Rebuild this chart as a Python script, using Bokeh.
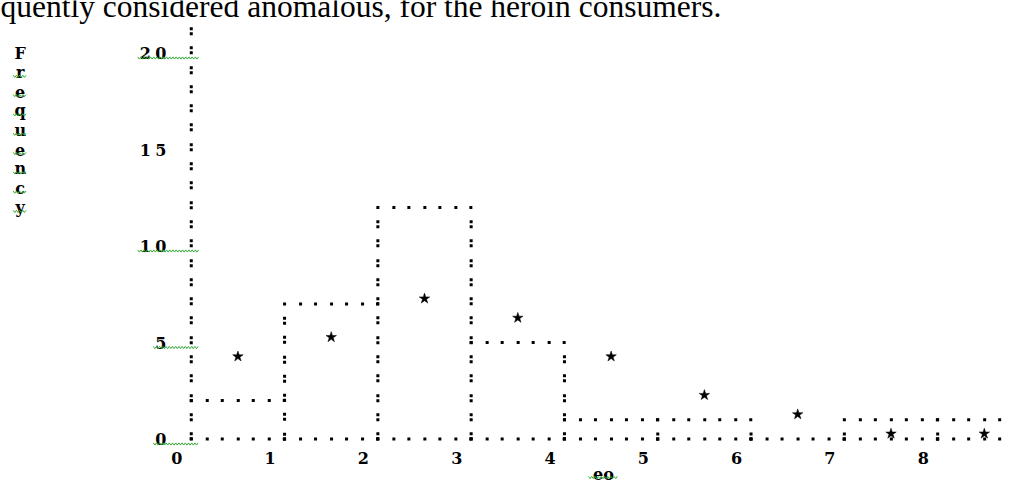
import numpy as np
from bokeh.plotting import figure
from bokeh.models import Range1d
from bokeh.core.properties import value
from bokeh.embed import file_html
from bokeh.resources import INLINE

# ---------------- data ----------------
bin_left = [0.155, 1.155, 2.155, 3.155, 4.155, 5.155, 6.155, 7.155, 8.155]
bin_width = 1.0
counts = [2, 7, 12, 5, 1, 1, 0, 1, 1]
star_x = [0.655, 1.655, 2.655, 3.655, 4.655, 5.655, 6.655, 7.655, 8.655]
star_y = [4, 5, 7, 6, 4, 2, 1, 0, 0]
y_ticks = [0, 5, 10, 15, 20]
y_tick_labels = ["0", "5", "10", "15", "20"]
y_ticks_underlined = ["0", "5", "10", "20"]
x_ticks = [0, 1, 2, 3, 4, 5, 6, 7, 8]
x_tick_labels = ["0", "1", "2", "3", "4", "5", "6", "7", "8"]
y_axis_top = 22
y_title = "Frequency"
y_title_top_row = 20
x_title = "eo"
caption = "quently considered anomalous, for the heroin consumers."

# ---------------- layout (pixels of the canvas) ----------------
W, H = 1008, 484
X0, SX = 176.3, 93.3      # canvas px of x=0, px per x unit
Y0, SY = 438.5, 19.3      # canvas px of row 0, px per count
CELL = SX / 6.0           # character cell width

def px_to_x(px):
    return (px - X0) / SX

def py_to_y(py):
    return (Y0 - py) / SY

def dxp(px):
    return px / SX

def dyp(px):
    return px / SY

def row_px(v):
    return Y0 - v * SY

# dash pattern emulating ':' characters (10 rows period = 193 px)
colon = []
for i in range(10):
    step = round((i + 1) * SY) - round(i * SY)
    colon += [3, 2, 3, step - 8]
colon_dash = " ".join(str(v) for v in colon)
# dash pattern emulating '.' characters along a row (6 cells per unit)
dots = []
for i in range(6):
    step = round((i + 1) * CELL) - round(i * CELL)
    dots += [3, step - 3]
dot_dash = " ".join(str(v) for v in dots)

p = figure(width=W, height=H, output_backend="svg", toolbar_location=None,
           x_range=Range1d(px_to_x(0), px_to_x(W)),
           y_range=Range1d(py_to_y(H), py_to_y(0)),
           x_axis_type=None, y_axis_type=None, title=None, min_border=0)
p.outline_line_color = None
p.background_fill_color = "white"
p.border_fill_color = "white"
p.min_border_left = p.min_border_right = p.min_border_top = p.min_border_bottom = 0

BLACK = "#000000"
FONT = value("DejaVu Serif")
FSIZE = "16px"

# ---------------- histogram bars (dotted, text-mode style) ----------------
L = np.array(bin_left)
R = L + bin_width
cnt = np.array(counts)
pad = dxp(1.5)
has = cnt > 0
p.segment(x0=L[has] - pad, y0=cnt[has], x1=R[has] + pad, y1=cnt[has],
          line_color=BLACK, line_width=3, line_dash=dot_dash)
# baseline row
p.segment(x0=L - pad, y0=np.zeros_like(L), x1=R + pad, y1=np.zeros_like(L),
          line_color=BLACK, line_width=3, line_dash=dot_dash)
# vertical edges between bins
edges = list(R)
h_edge = [max(counts[k], counts[k + 1] if k + 1 < len(counts) else 0) for k in range(len(counts))]
top_rows = np.array([max(h - 1, 0) for h in h_edge], dtype=float)
p.segment(x0=edges, y0=top_rows + dyp(6.5), x1=edges, y1=np.zeros(len(edges)) - dyp(1.5),
          line_color=BLACK, line_width=3, line_dash=colon_dash)

# ---------------- y axis ----------------
ax_x = bin_left[0]
p.segment(x0=[ax_x], y0=[y_axis_top - 1 + dyp(6.5)], x1=[ax_x], y1=[-dyp(1.5)],
          line_color=BLACK, line_width=3, line_dash=colon_dash)
p.scatter(x=[ax_x], y=[y_axis_top], marker="square", size=3,
          fill_color=BLACK, line_color=None)

# ---------------- stars ----------------
p.scatter(x=star_x, y=np.array(star_y, dtype=float) + dyp(5.3), marker="star",
          size=11, fill_color=BLACK, line_color=BLACK, line_width=0.5)

# ---------------- tick labels ----------------
YT_LAST_CELL = 160.3
tx, ty, tt = [], [], []
sq_xs, sq_ys = [], []

def squiggle(x_left, x_right, y_px):
    xs = np.arange(x_left, x_right + 0.01, 1.6)
    ys = y_px + 1.1 * np.where(np.arange(len(xs)) % 2 == 0, -1, 1)
    sq_xs.append(list(px_to_x(xs)))
    sq_ys.append(list(py_to_y(ys)))

for v, lab in zip(y_ticks, y_tick_labels):
    n = len(lab)
    for j, ch in enumerate(lab):
        tx.append(px_to_x(YT_LAST_CELL - (n - 1 - j) * CELL))
        ty.append(v)
        tt.append(ch)
    if lab in y_ticks_underlined:
        first = YT_LAST_CELL - (n - 1) * CELL
        squiggle(first - 7.5, X0 + SX * ax_x + 8, row_px(v) + 5)

p.text(x=tx, y=ty, text=tt, text_font=FONT, text_font_style="bold",
       text_font_size=FSIZE, text_align="center", text_baseline="alphabetic",
       text_color=BLACK)

p.text(x=x_ticks, y=[-1] * len(x_ticks), text=x_tick_labels, text_font=FONT,
       text_font_style="bold", text_font_size=FSIZE, text_align="center",
       text_baseline="alphabetic", text_color=BLACK)

# y title: letters stacked one per row
YTITLE_PX = 19.7
rows = [y_title_top_row - i for i in range(len(y_title))]
p.text(x=[px_to_x(YTITLE_PX)] * len(y_title), y=rows, text=list(y_title),
       text_font=FONT, text_font_style="bold", text_font_size=FSIZE,
       text_align="center", text_baseline="alphabetic", text_color=BLACK)
for i, r in enumerate(rows):
    if i > 0:
        squiggle(YTITLE_PX - 7, YTITLE_PX + 7, row_px(r) + 4)

# x title (lifted so that it stays inside the canvas)
XTITLE_PX = 603.0
XTITLE_BASE_PX = 474.0
p.text(x=[px_to_x(XTITLE_PX)], y=[py_to_y(XTITLE_BASE_PX)], text=[x_title],
       text_font=FONT, text_font_style="bold", text_font_size=FSIZE,
       text_align="center", text_baseline="alphabetic", text_color=BLACK)
squiggle(XTITLE_PX - 15, XTITLE_PX + 15, XTITLE_BASE_PX + 3)

p.multi_line(xs=sq_xs, ys=sq_ys, line_color="#33aa33", line_width=1)

# caption line (cut at the top, as in the source page)
p.text(x=[px_to_x(0)], y=[py_to_y(6)], text=[caption],
       text_font=value("Liberation Serif"), text_font_size="31.5px",
       text_align="left", text_baseline="alphabetic", text_color=BLACK)

open("out.html", "w").write(file_html(p, INLINE))
